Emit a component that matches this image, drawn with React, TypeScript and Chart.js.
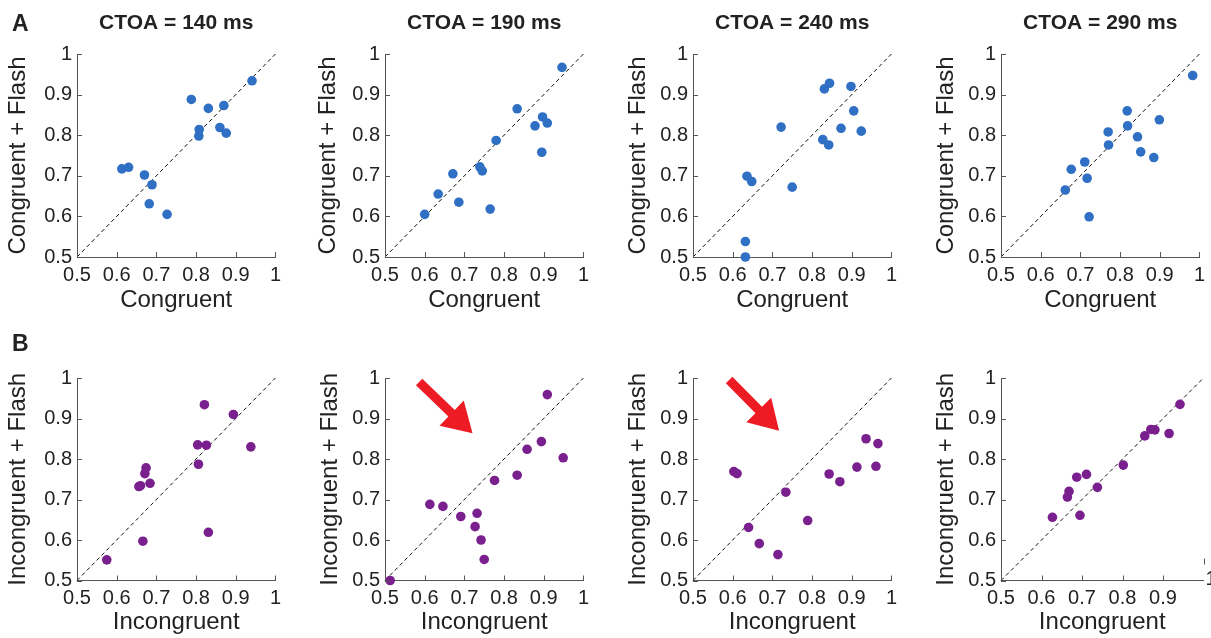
import React, { useEffect, useRef } from 'react';
import { Chart, registerables } from 'chart.js';

Chart.register(...registerables);

// ---------- data ----------
const ctoaLabels = ['CTOA = 140 ms', 'CTOA = 190 ms', 'CTOA = 240 ms', 'CTOA = 290 ms'];
const tickValues = [0.5, 0.6, 0.7, 0.8, 0.9, 1];
const tickLabels = ['0.5', '0.6', '0.7', '0.8', '0.9', '1'];
const identityLine = [0.5, 1];

const congruent140 = [0.613, 0.63, 0.67, 0.689, 0.682, 0.727, 0.788, 0.831, 0.808, 0.807, 0.87, 0.86, 0.876, 0.941];
const congruentFlash140 = [0.717, 0.721, 0.702, 0.678, 0.631, 0.605, 0.888, 0.866, 0.814, 0.798, 0.873, 0.819, 0.805, 0.934];
const congruent190 = [0.6, 0.634, 0.671, 0.686, 0.739, 0.745, 0.765, 0.78, 0.833, 0.878, 0.897, 0.909, 0.895, 0.946];
const congruentFlash190 = [0.605, 0.655, 0.705, 0.635, 0.722, 0.712, 0.618, 0.787, 0.865, 0.823, 0.845, 0.83, 0.758, 0.967];
const congruent240 = [0.632, 0.632, 0.636, 0.648, 0.722, 0.75, 0.827, 0.842, 0.831, 0.844, 0.873, 0.898, 0.905, 0.924];
const congruentFlash240 = [0.5, 0.538, 0.699, 0.686, 0.82, 0.672, 0.789, 0.776, 0.914, 0.928, 0.817, 0.92, 0.86, 0.81];
const congruent290 = [0.662, 0.677, 0.711, 0.717, 0.722, 0.77, 0.771, 0.818, 0.819, 0.844, 0.852, 0.885, 0.899, 0.983];
const congruentFlash290 = [0.665, 0.716, 0.734, 0.694, 0.599, 0.808, 0.776, 0.86, 0.823, 0.796, 0.759, 0.745, 0.838, 0.947];

const incongruent140 = [0.575, 0.666, 0.656, 0.66, 0.671, 0.674, 0.684, 0.804, 0.826, 0.806, 0.821, 0.831, 0.894, 0.938];
const incongruentFlash140 = [0.551, 0.597, 0.732, 0.734, 0.764, 0.778, 0.74, 0.835, 0.834, 0.787, 0.934, 0.619, 0.91, 0.83];
const incongruent190 = [0.513, 0.613, 0.646, 0.691, 0.727, 0.732, 0.742, 0.75, 0.776, 0.833, 0.858, 0.894, 0.949, 0.909];
const incongruentFlash190 = [0.5, 0.688, 0.683, 0.658, 0.633, 0.666, 0.6, 0.552, 0.747, 0.76, 0.824, 0.843, 0.803, 0.959];
const incongruent240 = [0.603, 0.611, 0.64, 0.667, 0.714, 0.734, 0.789, 0.843, 0.87, 0.913, 0.936, 0.961, 0.966];
const incongruentFlash240 = [0.769, 0.764, 0.631, 0.591, 0.564, 0.718, 0.648, 0.763, 0.744, 0.78, 0.85, 0.782, 0.838];
const incongruent290 = [0.627, 0.664, 0.668, 0.687, 0.695, 0.711, 0.738, 0.802, 0.855, 0.87, 0.88, 0.915, 0.942];
const incongruentFlash290 = [0.656, 0.706, 0.72, 0.755, 0.661, 0.762, 0.73, 0.785, 0.857, 0.873, 0.872, 0.863, 0.935];

// red arrow annotations in data units: [tailX, tailY, tipX, tipY]
const arrowB190 = [0.586, 0.99, 0.7205, 0.8635];
const arrowB240 = [0.591, 0.995, 0.717, 0.87];

// ---------- style / layout ----------
const blue = '#2f6fc4';
const purple = '#7a1f8e';
const red = '#ed1c24';
const axisColor = '#555555';
const textColor = '#222222';
const fontFamily = '"Liberation Sans", Arial, Helvetica, sans-serif';

const canvasLefts = [0, 308, 616, 924];
const canvasW = 287;
const yAxisW = 77;
const padRight = 7.5;

const rows = [
  { top: 0, height: 320, padTop: 54, xAxisH: 63, xTitlePad: 5.0 },
  { top: 320, height: 318, padTop: 58, xAxisH: 57.5, xTitlePad: 0.8 },
];

type PanelCfg = {
  xs: number[];
  ys: number[];
  color: string;
  xTitle: string;
  yTitle: string;
  row: number;
  col: number;
  yTitlePad: number;
  title?: string;
  letter?: string;
  letterBaseline?: number;
  arrow?: number[];
  shiftedLast?: boolean;
};

const panels: PanelCfg[] = [
  { xs: congruent140, ys: congruentFlash140, color: blue, xTitle: 'Congruent', yTitle: 'Congruent + Flash', row: 0, col: 0, yTitlePad: 3.9, title: ctoaLabels[0], letter: 'A', letterBaseline: 31 },
  { xs: congruent190, ys: congruentFlash190, color: blue, xTitle: 'Congruent', yTitle: 'Congruent + Flash', row: 0, col: 1, yTitlePad: 5.9, title: ctoaLabels[1] },
  { xs: congruent240, ys: congruentFlash240, color: blue, xTitle: 'Congruent', yTitle: 'Congruent + Flash', row: 0, col: 2, yTitlePad: 7.9, title: ctoaLabels[2] },
  { xs: congruent290, ys: congruentFlash290, color: blue, xTitle: 'Congruent', yTitle: 'Congruent + Flash', row: 0, col: 3, yTitlePad: 7.6, title: ctoaLabels[3] },
  { xs: incongruent140, ys: incongruentFlash140, color: purple, xTitle: 'Incongruent', yTitle: 'Incongruent + Flash', row: 1, col: 0, yTitlePad: 3.9, letter: 'B', letterBaseline: 31 },
  { xs: incongruent190, ys: incongruentFlash190, color: purple, xTitle: 'Incongruent', yTitle: 'Incongruent + Flash', row: 1, col: 1, yTitlePad: 7.6, arrow: arrowB190 },
  { xs: incongruent240, ys: incongruentFlash240, color: purple, xTitle: 'Incongruent', yTitle: 'Incongruent + Flash', row: 1, col: 2, yTitlePad: 7.9, arrow: arrowB240 },
  { xs: incongruent290, ys: incongruentFlash290, color: purple, xTitle: 'Incongruent', yTitle: 'Incongruent + Flash', row: 1, col: 3, yTitlePad: 7.6, shiftedLast: true },
];

function makeDecor(cfg: PanelCfg) {
  return {
    id: 'decor',
    afterDraw(chart: any) {
      const { ctx, chartArea } = chart;
      const xs = chart.scales.x;
      const ys = chart.scales.y;
      ctx.save();
      // inward tick marks
      ctx.strokeStyle = axisColor;
      ctx.lineWidth = 1;
      ctx.beginPath();
      for (const v of tickValues) {
        const isLast = v === tickValues[tickValues.length - 1];
        if (!(isLast && cfg.shiftedLast)) {
          const px = Math.round(xs.getPixelForValue(v)) + 0.5;
          ctx.moveTo(px, chartArea.bottom);
          ctx.lineTo(px, chartArea.bottom - 5);
        }
        const py = Math.round(ys.getPixelForValue(v)) + 0.5;
        ctx.moveTo(chartArea.left, py);
        ctx.lineTo(chartArea.left + 5, py);
      }
      ctx.stroke();

      // shifted last x label (as in reference)
      if (cfg.shiftedLast) {
        const px = Math.round(xs.getPixelForValue(1)) + 0.5;
        ctx.beginPath();
        ctx.moveTo(px, chartArea.bottom - 22);
        ctx.lineTo(px, chartArea.bottom - 16);
        ctx.stroke();
        ctx.fillStyle = textColor;
        ctx.font = `20px ${fontFamily}`;
        ctx.textAlign = 'left';
        ctx.textBaseline = 'middle';
        ctx.fillText(tickLabels[tickLabels.length - 1], px + 1, chartArea.bottom - 1);
      }

      // panel title
      if (cfg.title) {
        ctx.fillStyle = textColor;
        ctx.font = `bold 21px ${fontFamily}`;
        ctx.textAlign = 'center';
        ctx.textBaseline = 'middle';
        ctx.fillText(cfg.title, (chartArea.left + chartArea.right) / 2, 23.4);
      }
      // panel letter
      if (cfg.letter) {
        ctx.fillStyle = textColor;
        ctx.font = `bold 23px ${fontFamily}`;
        ctx.textAlign = 'left';
        ctx.textBaseline = 'alphabetic';
        ctx.fillText(cfg.letter, 12, cfg.letterBaseline || 31);
      }
      // red arrow
      if (cfg.arrow) {
        const tx = xs.getPixelForValue(cfg.arrow[0]);
        const ty = ys.getPixelForValue(cfg.arrow[1]);
        const hx = xs.getPixelForValue(cfg.arrow[2]);
        const hy = ys.getPixelForValue(cfg.arrow[3]);
        const len = Math.hypot(hx - tx, hy - ty);
        const ux = (hx - tx) / len;
        const uy = (hy - ty) / len;
        const nx = -uy;
        const ny = ux;
        const headLen = 29;
        const headHalf = 17.5;
        const shaftHalf = 4.6;
        const bx = hx - ux * headLen;
        const by = hy - uy * headLen;
        ctx.fillStyle = red;
        ctx.beginPath();
        ctx.moveTo(tx + nx * shaftHalf, ty + ny * shaftHalf);
        ctx.lineTo(bx + nx * shaftHalf, by + ny * shaftHalf);
        ctx.lineTo(bx + nx * headHalf, by + ny * headHalf);
        ctx.lineTo(hx, hy);
        ctx.lineTo(bx - nx * headHalf, by - ny * headHalf);
        ctx.lineTo(bx - nx * shaftHalf, by - ny * shaftHalf);
        ctx.lineTo(tx - nx * shaftHalf, ty - ny * shaftHalf);
        ctx.closePath();
        ctx.fill();
      }
      ctx.restore();
    },
  };
}

function Panel({ cfg }: { cfg: PanelCfg }) {
  const ref = useRef<HTMLCanvasElement>(null);
  const row = rows[cfg.row];
  useEffect(() => {
    if (!ref.current) return;
    const tickFont = { family: fontFamily, size: 20 };
    const titleFont = { family: fontFamily, size: 24 };
    const points = cfg.xs.map((x, i) => ({ x, y: cfg.ys[i] }));
    const diag = identityLine.map((v) => ({ x: v, y: v }));
    const chart = new Chart(ref.current, {
      type: 'scatter',
      data: {
        datasets: [
          {
            data: points,
            backgroundColor: cfg.color,
            borderColor: cfg.color,
            borderWidth: 0,
            pointRadius: 4.8,
            pointHoverRadius: 4.8,
            clip: false as any,
          },
          {
            data: diag,
            showLine: true,
            borderColor: '#111111',
            borderWidth: 1,
            borderDash: [4, 3],
            pointRadius: 0,
            pointHoverRadius: 0,
            clip: false as any,
          },
        ],
      },
      options: {
        animation: false,
        responsive: false,
        devicePixelRatio: 1,
        events: [],
        layout: { padding: { top: row.padTop, right: padRight, left: 0, bottom: 0 } },
        plugins: {
          legend: { display: false },
          tooltip: { enabled: false },
          title: { display: false },
        },
        scales: {
          x: {
            type: 'linear',
            min: 0.5,
            max: 1,
            afterBuildTicks: (s: any) => {
              s.ticks = tickValues.map((v) => ({ value: v }));
            },
            afterFit: (s: any) => {
              s.height = row.xAxisH;
            },
            grid: { display: true, drawOnChartArea: false, drawTicks: false, color: 'rgba(0,0,0,0)' },
            border: { display: true, color: axisColor, width: 1 },
            ticks: {
              padding: 6,
              font: tickFont,
              color: textColor,
              maxRotation: 0,
              minRotation: 0,
              autoSkip: false,
              callback: (_v: any, i: number) =>
                cfg.shiftedLast && i === tickLabels.length - 1 ? '' : tickLabels[i],
            },
            title: {
              display: true,
              text: cfg.xTitle,
              font: titleFont,
              color: textColor,
              padding: { top: 0, bottom: row.xTitlePad },
            },
          },
          y: {
            type: 'linear',
            min: 0.5,
            max: 1,
            afterBuildTicks: (s: any) => {
              s.ticks = tickValues.map((v) => ({ value: v }));
            },
            afterFit: (s: any) => {
              s.width = yAxisW;
            },
            grid: { display: true, drawOnChartArea: false, drawTicks: false, color: 'rgba(0,0,0,0)' },
            border: { display: true, color: axisColor, width: 1 },
            ticks: {
              padding: 5,
              font: tickFont,
              color: textColor,
              autoSkip: false,
              callback: (_v: any, i: number) => tickLabels[i],
            },
            title: {
              display: true,
              text: cfg.yTitle,
              font: titleFont,
              color: textColor,
              padding: { top: cfg.yTitlePad, bottom: 0 },
            },
          },
        },
      },
      plugins: [makeDecor(cfg)],
    } as any);
    return () => chart.destroy();
  }, []);
  return (
    <canvas
      ref={ref}
      width={canvasW}
      height={row.height}
      style={{
        position: 'absolute',
        left: canvasLefts[cfg.col],
        top: row.top,
        width: canvasW,
        height: row.height,
      }}
    />
  );
}

export default function App() {
  return (
    <div
      style={{
        position: 'fixed',
        left: 0,
        top: 0,
        width: 1211,
        height: 638,
        background: '#ffffff',
        overflow: 'hidden',
      }}
    >
      {panels.map((p, i) => (
        <Panel key={i} cfg={p} />
      ))}
    </div>
  );
}
